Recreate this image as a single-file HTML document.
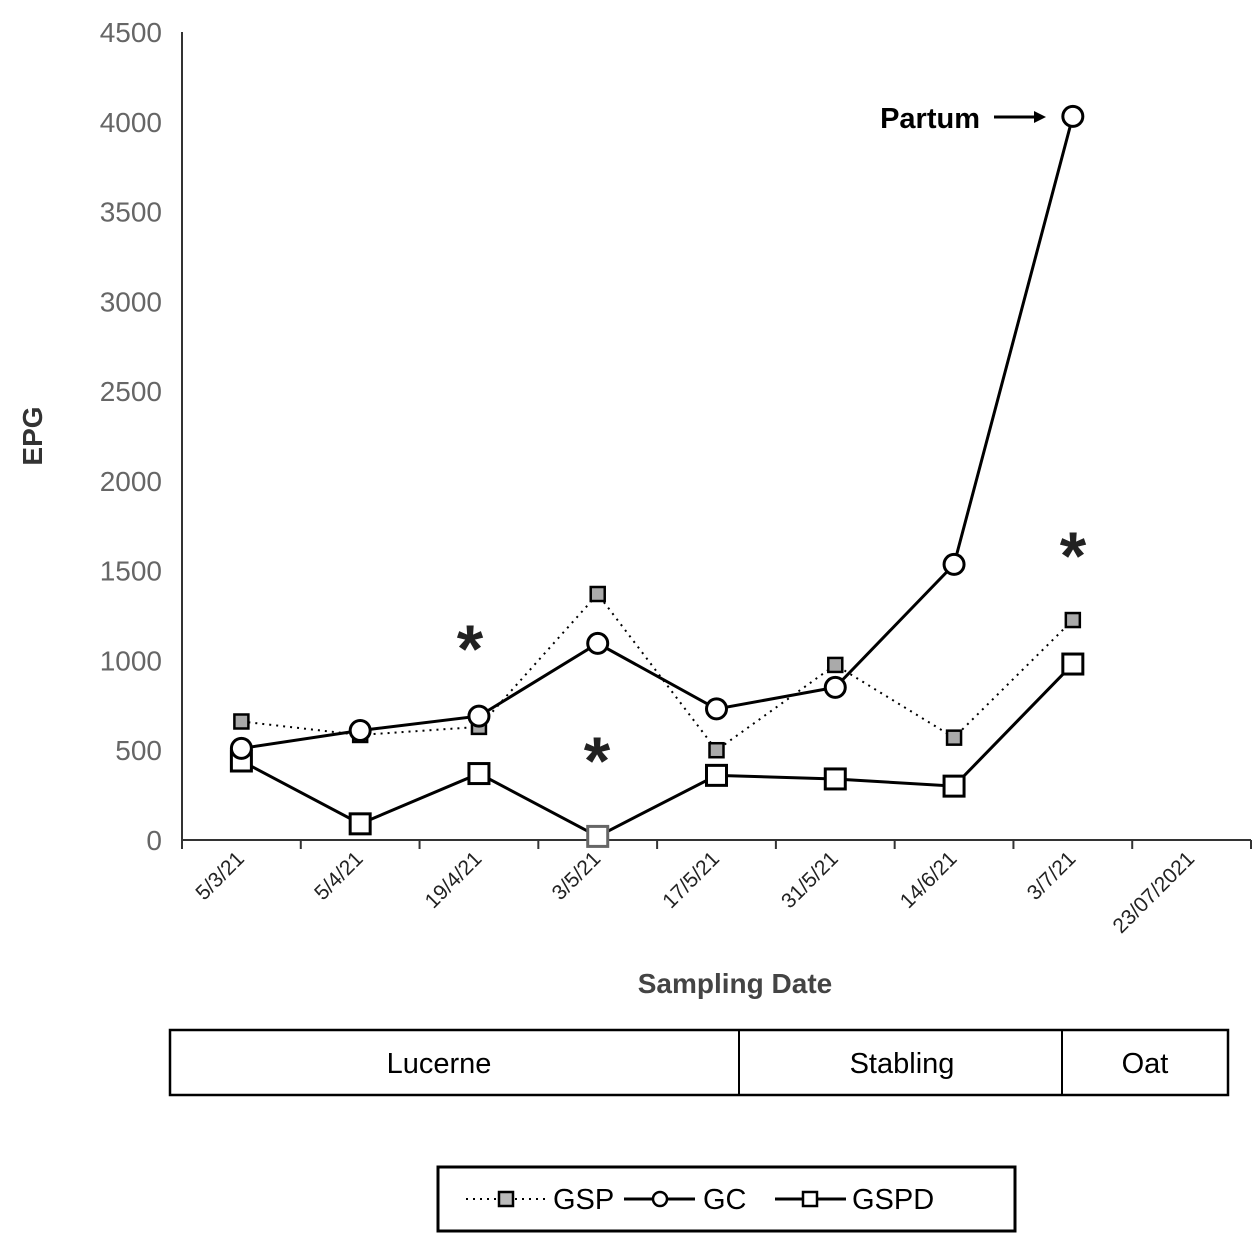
<!DOCTYPE html>
<html><head><meta charset="utf-8"><style>
body{margin:0;background:#fff;}
svg{display:block;font-family:"Liberation Sans",sans-serif;}
</style></head><body>
<svg id="chart" width="1257" height="1240" viewBox="0 0 1257 1240">
<g id="axes"></g><g id="series"></g>
<text x="0" y="0" transform="translate(42,436) rotate(-90)" text-anchor="middle" font-size="28" font-weight="bold" fill="#333">EPG</text>
<text x="735" y="993" text-anchor="middle" font-size="28" font-weight="bold" fill="#444">Sampling Date</text>
<text x="980" y="128" text-anchor="end" font-size="29" font-weight="bold" fill="#000">Partum</text>
<g><line x1="994" y1="117" x2="1036" y2="117" stroke="#000" stroke-width="3"/><polygon points="1046,117 1034,111 1034,123" fill="#000"/></g>
<text x="470" y="672" text-anchor="middle" font-size="68" font-weight="bold" fill="#222">*</text>
<text x="597" y="784" text-anchor="middle" font-size="68" font-weight="bold" fill="#222">*</text>
<text x="1073" y="579" text-anchor="middle" font-size="68" font-weight="bold" fill="#222">*</text>
<g>
<rect x="170" y="1030" width="1058" height="65" fill="none" stroke="#000" stroke-width="2.5"/>
<line x1="739" y1="1030" x2="739" y2="1095" stroke="#000" stroke-width="2"/>
<line x1="1062" y1="1030" x2="1062" y2="1095" stroke="#000" stroke-width="2"/>
<text x="439" y="1073" text-anchor="middle" font-size="29" fill="#000">Lucerne</text>
<text x="902" y="1073" text-anchor="middle" font-size="29" fill="#000">Stabling</text>
<text x="1145" y="1073" text-anchor="middle" font-size="29" fill="#000">Oat</text>
</g>
<g>
<rect x="438" y="1167" width="577" height="64" fill="none" stroke="#000" stroke-width="3"/>
<g>
<line x1="466" y1="1199" x2="548" y2="1199" stroke="#000" stroke-width="2" stroke-dasharray="2,5"/>
<rect x="499" y="1192" width="14" height="14" fill="#bbb" stroke="#000" stroke-width="2.5"/>
<text x="553" y="1209" font-size="29" fill="#000">GSP</text></g>
<g>
<line x1="624" y1="1199" x2="695" y2="1199" stroke="#000" stroke-width="3"/>
<circle cx="660" cy="1199" r="7" fill="#fff" stroke="#000" stroke-width="2.5"/>
<text x="703" y="1209" font-size="29" fill="#000">GC</text></g>
<g>
<line x1="775" y1="1199" x2="846" y2="1199" stroke="#000" stroke-width="3"/>
<rect x="803" y="1192" width="14" height="14" fill="#fff" stroke="#000" stroke-width="2.5"/>
<text x="852" y="1209" font-size="29" fill="#000">GSPD</text></g>
</g>
</svg>
<script>
const categories = ["5/3/21","5/4/21","19/4/21","3/5/21","17/5/21","31/5/21","14/6/21","3/7/21","23/07/2021"];
const gspValues = [660,585,630,1370,500,975,570,1225];
const gcValues = [510,610,690,1095,730,850,1535,4030];
const gspdValues = [440,90,370,20,360,340,300,980];
const yTicks = [0,500,1000,1500,2000,2500,3000,3500,4000,4500];

const NS="http://www.w3.org/2000/svg";
const x0=182,x1=1251,yTop=32,yBot=840,yMax=4500;
const step=(x1-x0)/categories.length;
function xPos(i){return x0+step*(i+0.5);}
function yPos(v){return yBot-(v/yMax)*(yBot-yTop);}
function mk(tag,attrs,parent){const e=document.createElementNS(NS,tag);for(const k in attrs)e.setAttribute(k,attrs[k]);parent.appendChild(e);return e;}
const axes=document.getElementById('axes'),series=document.getElementById('series');

let ya=mk('line',{x1:x0,y1:yTop,x2:x0,y2:yBot,stroke:'#333','stroke-width':2},axes);


let xa=mk('line',{x1:x0,y1:yBot,x2:x1,y2:yBot,stroke:'#333','stroke-width':2},axes);


yTicks.forEach(t=>{
  const tx=mk('text',{x:162,y:yPos(t)+10,'text-anchor':'end','font-size':28,fill:'#666'},axes);
  tx.textContent=t;
  
  
});
for(let i=0;i<=categories.length;i++){
  const x=x0+step*i;
  const tk=mk('line',{x1:x,y1:yBot,x2:x,y2:yBot+9,stroke:'#333','stroke-width':2},axes);
  
  
}
categories.forEach((c,i)=>{
  const x=xPos(i)+4,y=yBot+20;
  const tx=mk('text',{x:x,y:y,'text-anchor':'end','font-size':21,fill:'#222',transform:`rotate(-45 ${x} ${y})`},axes);
  tx.textContent=c;
  
  
});
function pts(vals){return vals.map((v,i)=>xPos(i)+','+yPos(v)).join(' ');}
let l1=mk('polyline',{points:pts(gspValues),fill:'none',stroke:'#000','stroke-width':2,'stroke-dasharray':'2,5'},series);


gspValues.forEach((v,i)=>{
  const r=mk('rect',{x:xPos(i)-7,y:yPos(v)-7,width:14,height:14,fill:'#aaa',stroke:'#000','stroke-width':2.5},series);
  
  
});
let l3=mk('polyline',{points:pts(gspdValues),fill:'none',stroke:'#000','stroke-width':3},series);


gspdValues.forEach((v,i)=>{
  const r=mk('rect',{x:xPos(i)-10,y:yPos(v)-10,width:20,height:20,fill:'#fff',stroke:i===3?'#666':'#000','stroke-width':3},series);
  
  
});
let l2=mk('polyline',{points:pts(gcValues),fill:'none',stroke:'#000','stroke-width':3},series);


gcValues.forEach((v,i)=>{
  const c=mk('circle',{cx:xPos(i),cy:yPos(v),r:10,fill:'#fff',stroke:'#000','stroke-width':3},series);
  
  
});
</script>
</body></html>
